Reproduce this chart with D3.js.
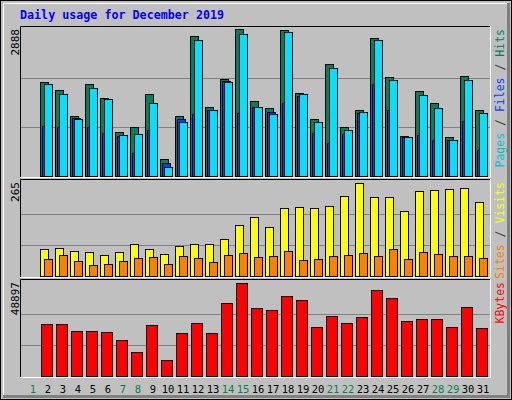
<!DOCTYPE html>
<html><head><meta charset="utf-8">
<script src="https://cdn.jsdelivr.net/npm/d3@7"></script>
<style>body{margin:0;background:#fff}svg{display:block}</style>
</head><body>
<svg id="chart" width="512" height="400"></svg>
<script>
// day 1 has no data
const days = d3.range(1, 32);
const weekend = [1, 7, 8, 14, 15, 21, 22, 28, 29];
const hits = [0, 1841, 1690, 1173, 1801, 1527, 858, 957, 1605, 328, 1173, 2744, 1350, 1900, 2888, 1467,
  1330, 2870, 1625, 1114, 2195, 957, 1291, 2705, 1939, 780, 1664, 1428, 760, 1959, 1291];
const files = [0, 977, 957, 1134, 957, 839, 780, 446, 898, 250, 1114, 1212, 1291, 1861, 1232, 1350,
  1252, 1429, 1566, 839, 643, 819, 1232, 1802, 1291, 760, 800, 702, 702, 1075, 505];
const pages = [0, 1802, 1605, 1114, 1723, 1507, 800, 819, 1429, 171, 1055, 2667, 1291, 1841, 2785, 1362,
  1212, 2824, 1605, 1055, 2116, 898, 1252, 2667, 1880, 760, 1586, 1330, 702, 1880, 1232];
const visits = [0, 77, 80, 71, 68, 60, 68, 92, 77, 63, 86, 92, 92, 106, 146, 167,
  141, 193, 196, 193, 199, 227, 265, 225, 225, 184, 242, 245, 248, 251, 210];
const sites = [0, 48, 60, 42, 31, 34, 42, 51, 54, 34, 57, 51, 40, 60, 66, 54,
  57, 71, 45, 48, 57, 60, 66, 57, 77, 48, 68, 63, 57, 57, 51];
const kbytes = [0, 27381, 27381, 23647, 23647, 23114, 18847, 12446, 26848, 8179, 22581, 27915, 22581, 38583, 48897, 35916,
  34849, 42317, 40183, 25781, 31649, 27915, 31116, 44984, 41250, 28982, 30049, 30049, 25781, 36450, 25248];

const svg = d3.select("#chart");
const mono = "DejaVu Sans Mono, monospace";

// window frame
svg.append("rect").attr("x", 0.5).attr("y", 0.5).attr("width", 511).attr("height", 399)
  .attr("fill", "#c0c0c0").attr("stroke", "#000");
svg.append("path").attr("d", "M3.5,396V3.5H508").attr("fill", "none").attr("stroke", "#fff");
svg.append("path").attr("d", "M508.5,3V396.5H3").attr("fill", "none").attr("stroke", "#808080").attr("stroke-width", 3);

svg.append("text").attr("x", 20).attr("y", 19).attr("font-family", mono).attr("font-weight", "bold")
  .attr("font-size", 11.7).attr("fill", "#0000ff").text("Daily usage for December 2019");

const x = d3.scaleLinear().domain([1, 31]).range([33, 483]);

const panels = [
  { top: 26, bottom: 176, max: 2888, label: "2888",
    series: [{ v: hits, c: "#00805c", o: -8, w: 8 }, { v: files, c: "#0040ff", o: -6, w: 8 }, { v: pages, c: "#00e0ff", o: -4, w: 8 }],
    legend: [["Pages", "#00c0d0"], [" / ", "#404040"], ["Files", "#0040ff"], [" / ", "#404040"], ["Hits", "#00805c"]] },
  { top: 179, bottom: 276, max: 265, label: "265",
    series: [{ v: visits, c: "#ffff00", o: -8, w: 8 }, { v: sites, c: "#ff8000", o: -4, w: 8 }],
    legend: [["Sites", "#ff8000"], [" / ", "#404040"], ["Visits", "#ffff00"]] },
  { top: 279, bottom: 376, max: 48897, label: "48897",
    series: [{ v: kbytes, c: "#ff0000", o: -7, w: 11 }],
    legend: [["KBytes", "#ff0000"]] }
];

panels.forEach(p => {
  const y = d3.scaleLinear().domain([0, p.max]).range([p.bottom, p.top + 3 + (p.max === 2888 ? 0 : 1)]);
  const g = svg.append("g");
  g.append("path").attr("d", `M20.5,${p.bottom + 1}V${p.top + 0.5}H490`).attr("fill", "none").attr("stroke", "#000");
  g.append("path").attr("d", `M20,${p.bottom + 1.5}H490.5V${p.top}`).attr("fill", "none").attr("stroke", "#fff");
  [1 / 3, 2 / 3].forEach(f => g.append("line").attr("x1", 21).attr("x2", 490)
    .attr("y1", Math.round(y(p.max * f)) + 0.5).attr("y2", Math.round(y(p.max * f)) + 0.5).attr("stroke", "#808080"));
  p.series.forEach(s => {
    g.selectAll(null).data(days.filter(d => s.v[d - 1] > 0)).join("rect")
      .attr("x", d => Math.round(x(d)) + s.o + 0.5)
      .attr("y", d => Math.round(y(s.v[d - 1])) + 0.5)
      .attr("width", s.w)
      .attr("height", d => p.bottom - Math.round(y(s.v[d - 1])))
      .attr("fill", s.c).attr("stroke", "#000");
  });
  svg.append("text").attr("transform", `translate(19,${p.top + 3}) rotate(-90)`)
    .attr("text-anchor", "end").attr("font-family", mono).attr("font-size", 11).attr("fill", "#000").text(p.label);
  const t = svg.append("text").attr("transform", `translate(504,${p.top + 3}) rotate(-90)`)
    .attr("text-anchor", "end").attr("font-family", mono).attr("font-size", 11.5);
  p.legend.forEach(([s, c]) => t.append("tspan").attr("fill", c).attr("xml:space", "preserve").text(s));
});

svg.selectAll(".day").data(days).join("text")
  .attr("x", d => x(d)).attr("y", 393).attr("text-anchor", "middle")
  .attr("font-family", mono).attr("font-size", 10.5)
  .attr("fill", d => weekend.includes(d) ? "#008050" : "#000").text(d => d);
</script>
</body></html>
